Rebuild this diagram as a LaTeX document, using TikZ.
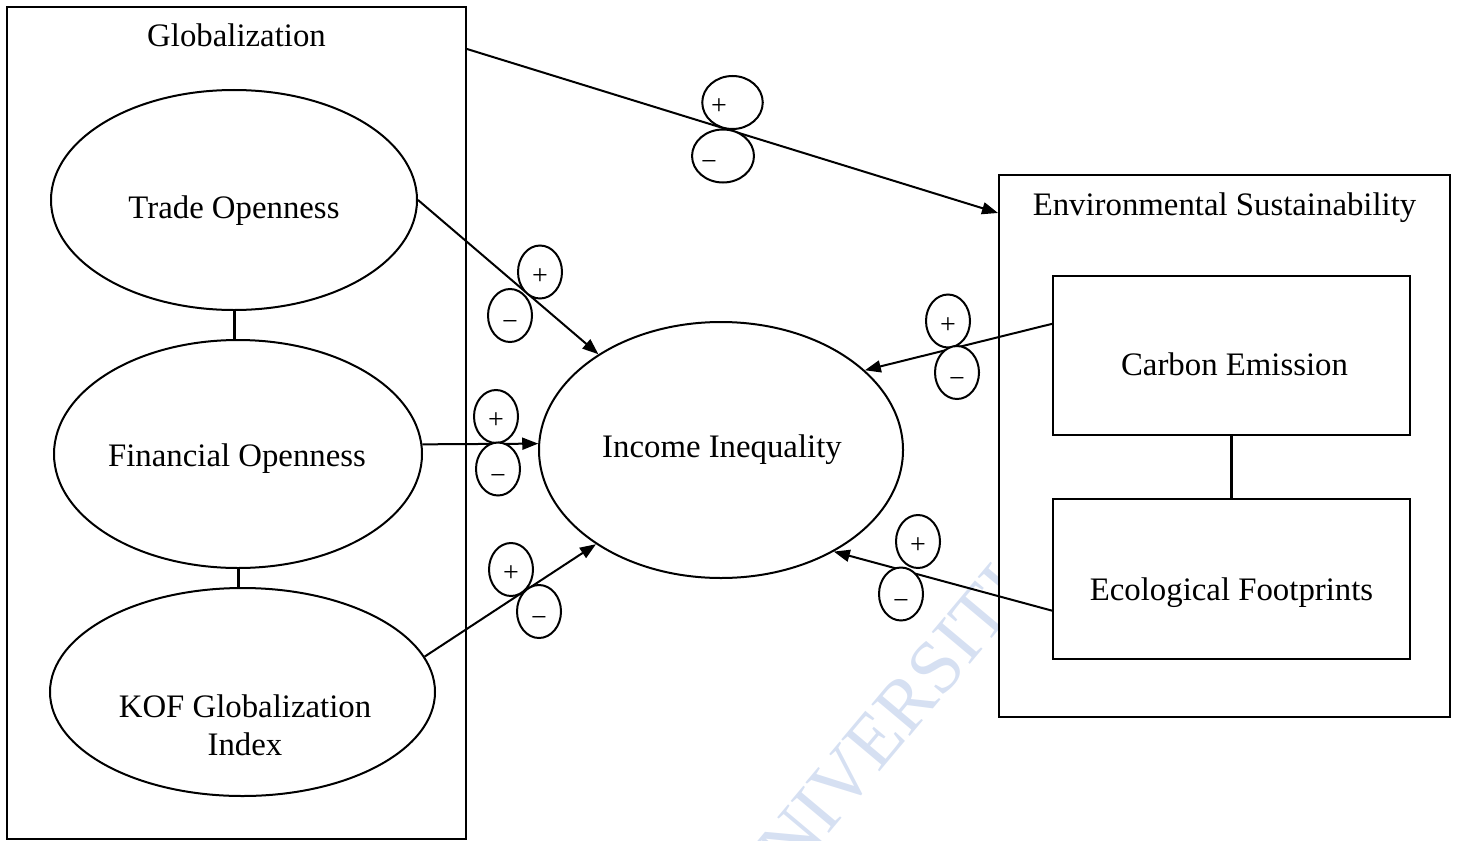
\documentclass[tikz,border=0pt]{standalone}
\usepackage{fontspec}
\setmainfont{Liberation Serif}
\usetikzlibrary{arrows.meta,calc,shapes.geometric}
\definecolor{wm}{RGB}{214,224,242}
\tikzset{>={Triangle[length=8pt,width=6pt]},every node/.style={font=\fontsize{16.4}{19}\selectfont},
oval/.style={draw,ellipse,line width=1pt,fill=white,inner sep=0pt},
box/.style={draw,rectangle,line width=1pt,fill=white,inner sep=0pt},
sgn/.style={draw,ellipse,line width=1pt,fill=white,inner sep=0pt,minimum width=22pt,minimum height=26.5pt,font=\fontsize{14}{14}\selectfont},
flow/.style={line width=1pt,->},link/.style={line width=1.5pt}}
\begin{document}
\begin{tikzpicture}[x=.5pt,y=-.5pt]
\useasboundingbox (0,0) rectangle (1459,840);
\node[rotate=50,text=wm,font=\fontsize{38}{38}\selectfont] (mark) at (875,740) {UNIVERSITI};
% the two groups
\node[box,minimum width=229.5pt,minimum height=416pt] (glob) at (236.5,423) {};
\node[box,minimum width=225.5pt,minimum height=271pt] (env) at (1224.5,446) {};
\node[anchor=base] (globT) at ($(glob.north)+(0,41)$) {Globalization};
\node[anchor=base] (envT) at ($(env.north)+(0,41)$) {Environmental Sustainability};
% ovals
\node[oval,minimum width=183pt,minimum height=110pt] (trade) at (234,200) {};
\node[oval,minimum width=184pt,minimum height=114pt] (fin) at (238,454) {};
\node[oval,minimum width=192.5pt,minimum height=104pt] (kof) at (242.5,692) {};
\node[oval,minimum width=182pt,minimum height=128pt] (ii) at (721,450) {};
\node[anchor=base] (tradeT) at ($(trade)+(0,18)$) {Trade Openness};
\node[anchor=base] (finT) at ($(fin)+(-1,12)$) {Financial Openness};
\node[align=center] (kofT) at ($(kof)+(2.5,33)$) {KOF Globalization\\Index};
\node[anchor=base] (iiT) at ($(ii)+(1,7)$) {Income Inequality};
% boxes
\node[box,minimum width=178.5pt,minimum height=79.5pt] (carbon) at (1231.5,355.5) {};
\node[box,minimum width=178.5pt,minimum height=80pt] (eco) at (1231.5,579) {};
\node[anchor=base] (carbonT) at ($(carbon)+(3,19.5)$) {Carbon Emission};
\node[anchor=base] (ecoT) at ($(eco)+(0,21)$) {Ecological Footprints};
\draw[link] (trade.south) -- (trade.south |- fin.north);
\draw[link] (fin.south) -- (fin.south |- kof.north);
\draw[link] (carbon.south) -- (eco.north);
% effects
\draw[flow] ($(glob.north east)+(0,43)$) -- ($(env.north west)+(0,39)$);
\draw[flow] (trade.east) -- (ii.142);
\draw[flow] (fin.3.5) -- (ii.178);
\draw[flow] (kof.11) -- (ii.217);
\draw[flow] (carbon.170) -- (ii.29);
\draw[flow] (eco.190) -- (ii.318);
% signs
\node[sgn,text height=12pt] (pg) at (732.5,102.5) {+\hspace*{13.5pt}};
\node[sgn,text height=14pt] (mg) at (723,156) {−\hspace*{14pt}};
\foreach \n/\px/\py/\mx/\my in {t/540/272/510/315.5,f/496/416.5/498/469,k/511/569.5/539/611.5,c/948/321/957/372.5,e/918/541.5/901/594}{
\node[sgn,text height=12pt] (p\n) at (\px,\py) {+};\node[sgn,text height=15pt] (m\n) at (\mx,\my) {−};}
\end{tikzpicture}
\end{document}
